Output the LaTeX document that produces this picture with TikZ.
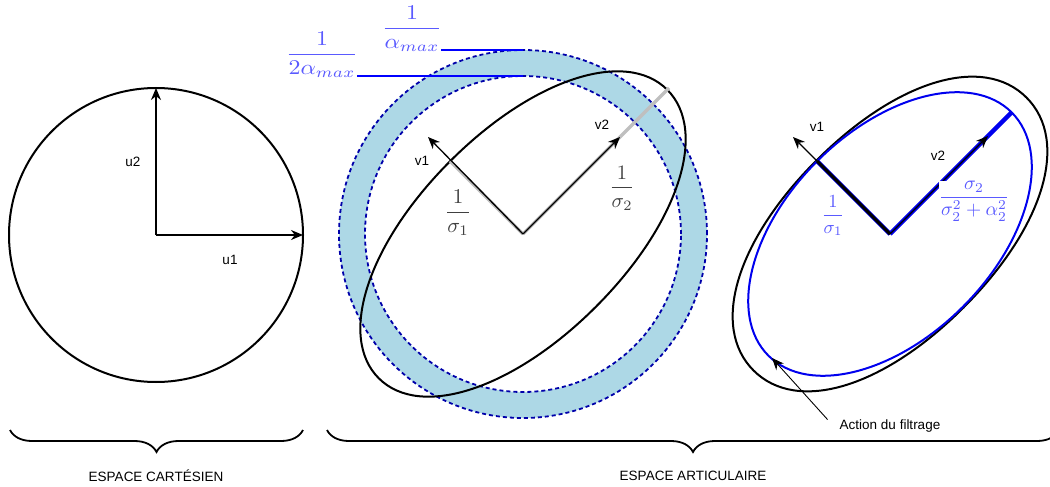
\documentclass[tikz,border=0pt]{standalone}
\usepackage{fontspec}
\setsansfont{Liberation Sans}
\usetikzlibrary{arrows.meta,decorations.pathreplacing}
\definecolor{ringblue}{HTML}{ADD8E6}
\definecolor{dashblue}{HTML}{0000AA}
\definecolor{labblue}{RGB}{90,90,255}
\definecolor{purblue}{HTML}{0000EE}
\newcommand{\sqell}[3]{(#1,0) .. controls (#1,{#3*#2}) and ({#3*#1},#2) .. (0,#2) .. controls ({-#3*#1},#2) and (-#1,{#3*#2}) .. (-#1,0) .. controls (-#1,{-#3*#2}) and ({-#3*#1},-#2) .. (0,-#2) .. controls ({#3*#1},-#2) and (#1,{-#3*#2}) .. cycle}
\begin{document}
\begin{tikzpicture}[x=1pt,y=-1pt,
  lab/.style={font=\sffamily\fontsize{13.5}{16}\selectfont, inner sep=0pt},
  mathlab/.style={inner sep=0pt},
  vec/.style={line width=1.3pt, -{Stealth[length=12pt,width=10pt]}},
  thinvec/.style={line width=0.9pt, -{Stealth[length=12pt,width=10pt]}},
  shapeline/.style={line width=2pt, black},
  blueell/.style={line width=2pt, purblue},
  dashcirc/.style={line width=1.8pt, dashblue, dash pattern=on 4pt off 3pt},
  grayseg/.style={line width=3.5pt, black!25},
  limline/.style={line width=1.4pt, blue},
  bracestyle/.style={line width=1.8pt, decorate, decoration={brace, mirror, amplitude=22pt}}
]
\useasboundingbox (0,0) rectangle (1050,487);
\clip (0,0) rectangle (1050,487);

% ---------- Cartesian space ----------
\coordinate (O1) at (156,235);
\coordinate (U1) at (303,235);
\coordinate (U2) at (156,88);
\draw[shapeline] (O1) circle[radius=147pt];
\draw[vec] (O1) -- (U1);
\draw[vec] (O1) -- (U2);
\node[lab] (u1) at (230,260) {u1};
\node[lab] (u2) at (133,162) {u2};

% ---------- Joint space, middle ----------
\coordinate (O2) at (523,234);
\fill[ringblue, even odd rule] (O2) circle[radius=184pt] (O2) circle[radius=158pt];
\draw[dashcirc] (O2) circle[radius=184pt];
\draw[dashcirc] (O2) circle[radius=158pt];
\begin{scope}[shift={(523,234)}, rotate=45]
  \draw[shapeline] \sqell{204}{103}{0.57};
\end{scope}
\coordinate (C1) at (450,161);
\coordinate (G2) at (669,88);
\coordinate (V1) at (428,137);
\coordinate (V2) at (620,137);
\draw[grayseg] (O2) -- (C1);
\draw[grayseg] (O2) -- (G2);
\draw[vec] (O2) -- (V1);
\draw[vec] (O2) -- (V2);
\node[lab] (v1m) at (422,161) {v1};
\node[lab] (v2m) at (602,125) {v2};
\node[mathlab, black!75, scale=2.1] (s1m) at (458,213) {$\displaystyle\frac{1}{\sigma_1}$};
\node[mathlab, black!75, scale=2.05] (s2m) at (622,188) {$\displaystyle\frac{1}{\sigma_2}$};

\coordinate (T1) at (523,50);
\coordinate (T2) at (523,76);
\coordinate (L1) at (441,50);
\coordinate (L2) at (357,76);
\draw[limline] (L1) -- (T1);
\draw[limline] (L2) -- (T2);
\node[mathlab, labblue, xscale=2.4, yscale=2.1] (amax) at (412,29) {$\displaystyle\frac{1}{\alpha_{max}}$};
\node[mathlab, labblue, xscale=2.4, yscale=2.1] (a2max) at (322,55) {$\displaystyle\frac{1}{2\alpha_{max}}$};

% ---------- Joint space, right ----------
\coordinate (O3) at (890,234);
\begin{scope}[shift={(890,234)}, rotate=45]
  \draw[shapeline] \sqell{193}{104}{0.59};
  \draw[blueell] \sqell{172}{103}{0.5523};
\end{scope}
\coordinate (C3) at (817,161);
\coordinate (B2) at (1012,112);
\coordinate (W1) at (793,137);
\coordinate (W2) at (988,136);
\draw[line width=4.5pt, purblue] (O3) -- (B2);
\draw[line width=4.5pt, purblue] (O3) -- (C3);
\draw[line width=3pt, black] (O3) -- (C3);
\draw[vec] (O3) -- (W1);
\draw[vec] (O3) -- (W2);
\node[lab] (v1r) at (817,127) {v1};
\node[lab] (v2r) at (938,156) {v2};
\node[mathlab, labblue, scale=1.85] (s1r) at (833,216) {$\displaystyle\frac{1}{\sigma_1}$};
\node[mathlab, labblue, fill=white, scale=1.95] (filt) at (974,201) {$\displaystyle\frac{\sigma_2}{\sigma_2^2+\alpha_2^2}$};

\node[lab] (act) at (890,426) {Action du filtrage};
\coordinate (AH) at (772,358);
\draw[thinvec] ([xshift=-12pt]act.north west) -- (AH);

% ---------- Braces ----------
\coordinate (BL1) at (10,430);
\coordinate (BL2) at (303,430);
\coordinate (BR1) at (327,430);
\coordinate (BR2) at (1059,430);
\draw[bracestyle] (BL1) -- (BL2);
\draw[bracestyle] (BR1) -- (BR2);
\node[lab] (cart) at (156,476) {ESPACE CARTÉSIEN};
\node[lab] (artic) at (693,476) {ESPACE ARTICULAIRE};
\end{tikzpicture}
\end{document}
